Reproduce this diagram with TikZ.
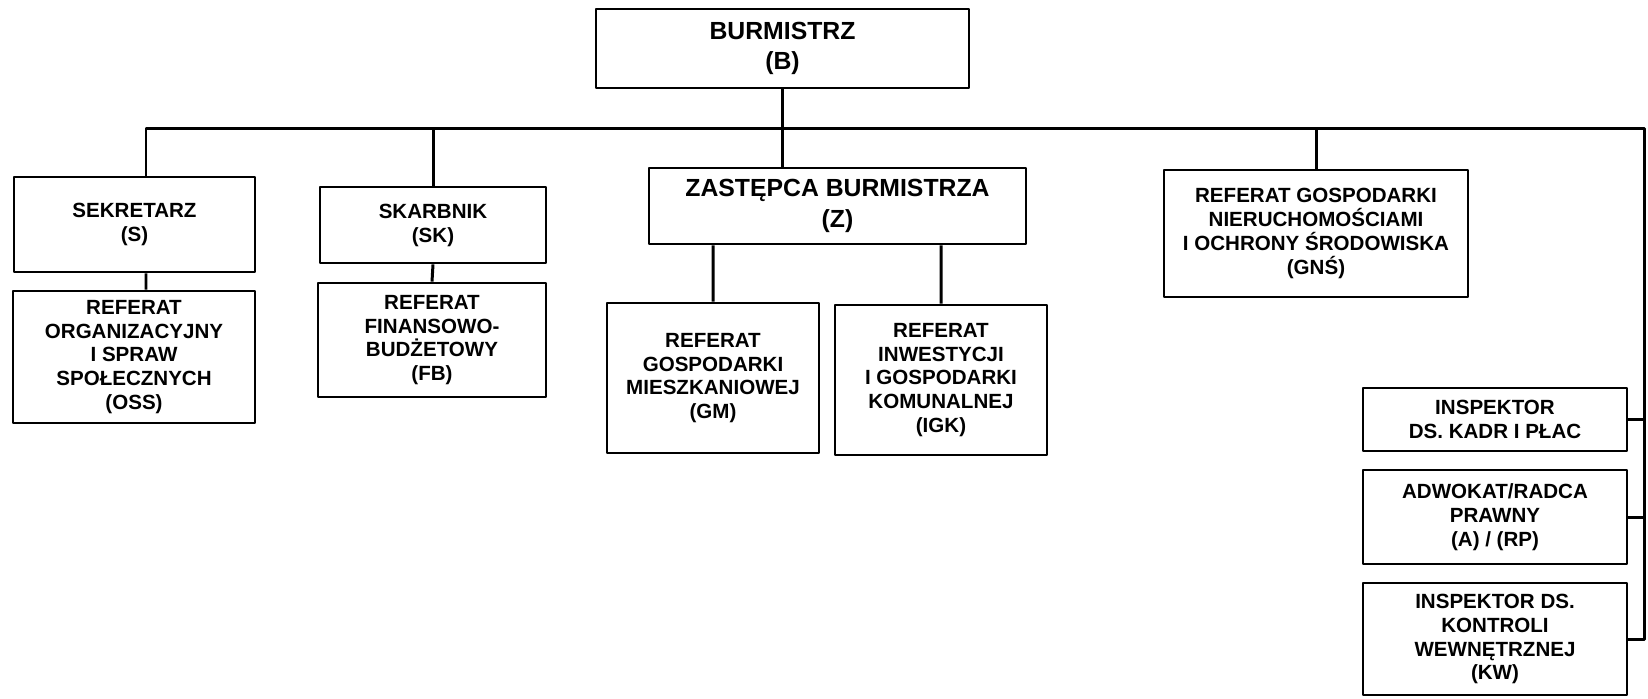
\documentclass[tikz,border=0pt]{standalone}
\usepackage{fontspec}
\setmainfont{Liberation Sans}
\begin{document}
\begin{tikzpicture}[x=0.02cm,y=-0.02cm,line join=round,
	box/.style={draw,line width=1.6pt,align=center,inner sep=0pt,font=\fontsize{11.7}{13.6}\selectfont\bfseries},
	bigbox/.style={box,font=\fontsize{14.1}{17.5}\selectfont\bfseries},
	link/.style={line width=1.7pt}]
	\useasboundingbox (0,0) rectangle (1648,698);
	% kierownictwo
	\node[bigbox,minimum width=7.46cm,minimum height=1.58cm] (B) at (782.5,48.5) {BURMISTRZ\\(B)};
	\node[bigbox,minimum width=7.54cm,minimum height=1.52cm] (Z) at (837.5,206) {ZASTĘPCA BURMISTRZA\\(Z)};
	\node[box,minimum width=4.82cm,minimum height=1.90cm] (S) at (134.5,224.5) {SEKRETARZ\\(S)};
	\node[box,minimum width=4.52cm,minimum height=1.52cm] (SK) at (433,225) {SKARBNIK\\(SK)};
	\node[box,minimum width=6.08cm,minimum height=2.54cm] (GNS) at (1316,233.5) {REFERAT GOSPODARKI\\NIERUCHOMOŚCIAMI\\I OCHRONY ŚRODOWISKA\\(GNŚ)};
	% referaty
	\node[box,minimum width=4.84cm,minimum height=2.64cm] (OSS) at (134,357) {REFERAT\\ORGANIZACYJNY\\I SPRAW\\SPOŁECZNYCH\\(OSS)};
	\node[box,minimum width=4.56cm,minimum height=2.28cm] (FB) at (432,340) {REFERAT\\FINANSOWO-\\BUDŻETOWY\\(FB)};
	\node[box,minimum width=4.24cm,minimum height=3.00cm] (GM) at (713,378) {REFERAT\\GOSPODARKI\\MIESZKANIOWEJ\\(GM)};
	\node[box,minimum width=4.24cm,minimum height=3.00cm] (IGK) at (941,380) {REFERAT\\INWESTYCJI\\I GOSPODARKI\\KOMUNALNEJ\\(IGK)};
	% stanowiska samodzielne
	\node[box,minimum width=5.28cm,minimum height=1.26cm] (KP) at (1495,419.5) {INSPEKTOR\\DS. KADR I PŁAC};
	\node[box,minimum width=5.28cm,minimum height=1.88cm] (RP) at (1495,517) {ADWOKAT/RADCA\\PRAWNY\\(A) / (RP)};
	\node[box,minimum width=5.28cm,minimum height=2.24cm] (KW) at (1495,639) {INSPEKTOR DS.\\KONTROLI\\WEWNĘTRZNEJ\\(KW)};
	\coordinate (busL) at (146,128); \coordinate (busR) at (1644,128);
	\draw[link] (S.north -| busL)--(busL)--(busR)--(KW.east -| busR)--(KW.east) (B.south)--(B.south |- Z.north) (SK.north)--(SK.north |- busL) (GNS.north)--(GNS.north |- busR);
	\draw[link] (S.south -| busL)--(OSS.north -| busL) (SK.south)--(FB.north) (GM.north)--(GM.north |- Z.south) (IGK.north)--(IGK.north |- Z.south);
	\draw[link] (KP.east)--(KP.east -| busR) (RP.east)--(RP.east -| busR);
\end{tikzpicture}
\end{document}
